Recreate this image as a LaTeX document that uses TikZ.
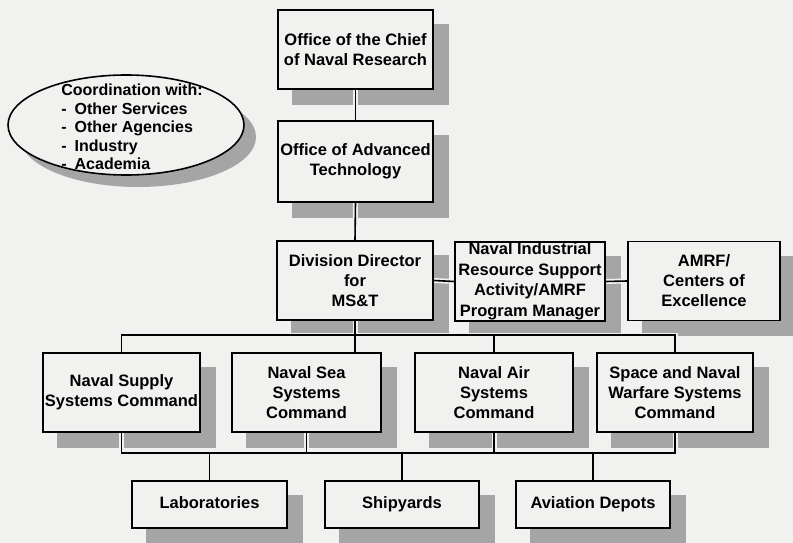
\documentclass[tikz,border=0pt]{standalone}
\usepackage{fontspec}
\setmainfont{Liberation Sans}
\usetikzlibrary{calc,shapes.geometric}
\definecolor{bgc}{RGB}{241,241,239}
\definecolor{shadowc}{RGB}{165,165,165}
\pgfdeclarelayer{bg}\pgfdeclarelayer{shadow}\pgfdeclarelayer{conn}
\pgfsetlayers{bg,shadow,conn,main}
\newcommand\myconns[1]{%
  \draw[#1] (chief.south) -- (adv.north);
  \draw[#1] (adv.south) -- (div.north);
  \draw[#1] (div.east) -- (nirsa.west);
  \draw[#1] (nirsa.east) -- (amrf.west);
  \draw[#1] (div.south) -- (div.south |- sea.north);
  \draw[#1] (supply.north) -- (supply.north |- ubus) -- (space.north |- ubus) -- (space.north);
  \draw[#1] (air.north) -- (air.north |- ubus);
  \draw[#1] (supply.south) -- (supply.south |- lbus) -- (space.south |- lbus) -- (space.south);
  \draw[#1] (sea.south) -- (sea.south |- lbus);
  \draw[#1] (air.south) -- (air.south |- lbus);
  \draw[#1] (lab.north) -- (lab.north |- lbus);
  \draw[#1] (ship.north) -- (ship.north |- lbus);
  \draw[#1] (avi.north) -- (avi.north |- lbus);
}
\begin{document}
\begin{tikzpicture}[x=1pt,y=-1pt,
  txtfont/.style={font=\bfseries\fontsize{16.5}{20}\selectfont},
  box/.style={draw, line width=1.6pt, fill=bgc, rectangle, inner sep=0pt, align=center, txtfont},
  ell/.style={draw, line width=1.6pt, fill=bgc, ellipse, inner sep=0pt},
  gapline/.style={draw=bgc, line width=5pt},
  conn/.style={draw=black, line width=1.6pt},
  shad/.style={fill=shadowc}]
\useasboundingbox (0,0) rectangle (793,543);
\begin{pgfonlayer}{bg}
  \fill[bgc] (0,0) rectangle (793,543);
\end{pgfonlayer}

\coordinate (ubus) at (0,335);
\coordinate (lbus) at (0,453);

\node[box, minimum width=155, minimum height=79] (chief) at (355.5,49.5) {Office of the Chief\\of Naval Research};
\node[box, minimum width=155, minimum height=81] (adv) at (355.5,161.5) {Office of Advanced\\Technology};
\node[box, minimum width=156, minimum height=79] (div) at (355,280.5) {Division Director\\for\\MS\&T};
\node[box, minimum width=150, minimum height=79, font=\bfseries\fontsize{16.5}{20.5}\selectfont] (nirsa) at (530,281.5) {Naval Industrial\\Resource Support\\Activity/AMRF\\Program Manager};
\node[box, minimum width=152, minimum height=79] (amrf) at (704,281) {AMRF/\\Centers of\\Excellence};

\node[box, minimum width=157, minimum height=79] (supply) at (121.5,392.5) {Naval Supply\\Systems Command};
\node[box, minimum width=149, minimum height=79] (sea) at (306.5,392.5) {Naval Sea\\Systems\\Command};
\node[box, minimum width=158, minimum height=79] (air) at (494,392.5) {Naval Air\\Systems\\Command};
\node[box, minimum width=156, minimum height=79] (space) at (675,392.5) {Space and Naval\\Warfare Systems\\Command};

\node[box, minimum width=155, minimum height=47] (lab) at (209.5,504.5) {\strut Laboratories};
\node[box, minimum width=154, minimum height=47] (ship) at (402,504.5) {\strut Shipyards};
\node[box, minimum width=154, minimum height=47] (avi) at (593,504.5) {\strut Aviation Depots};

\node[ell, minimum width=236, minimum height=100] (coord) at (126,125) {};
\node[align=left, inner sep=0pt, font=\bfseries\fontsize{16}{18.5}\selectfont] (coordtxt) at (132,127)
  {Coordination with:\\-\hspace{8pt}Other Services\\-\hspace{8pt}Other Agencies\\-\hspace{8pt}Industry\\-\hspace{8pt}Academia};

\begin{pgfonlayer}{shadow}
  \foreach \n in {chief,adv,div,nirsa,amrf,supply,sea,air,space,lab,ship,avi}
    \fill[shad] ($(\n.south west)+(15,15)$) rectangle ($(\n.north east)+(15,15)$);
  \fill[shad] (138,137) ellipse [x radius=118, y radius=50];
\end{pgfonlayer}

\begin{pgfonlayer}{conn}
  \myconns{gapline}
  \myconns{conn}
\end{pgfonlayer}
\end{tikzpicture}
\end{document}
